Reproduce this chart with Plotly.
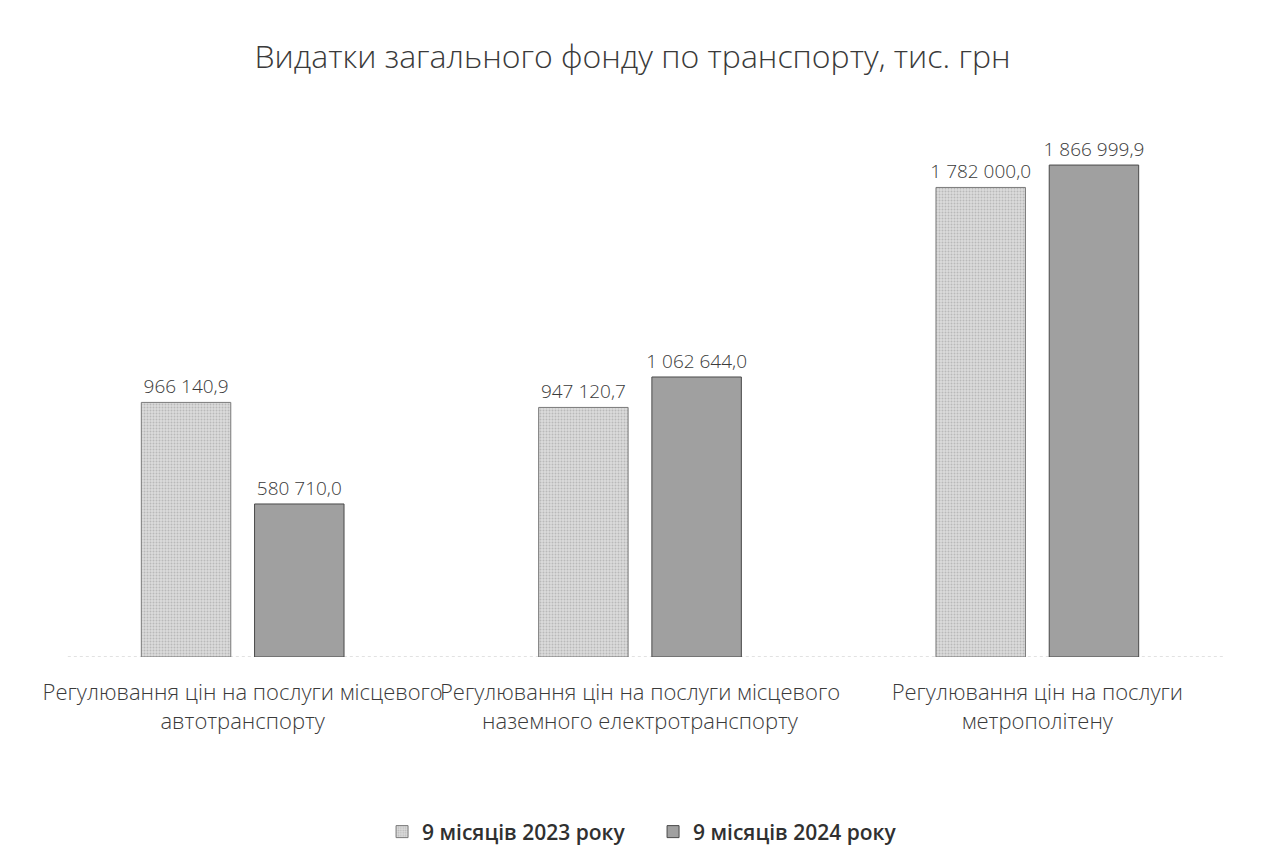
import plotly.graph_objects as go

categories = [
    "Регулювання цін на послуги місцевого<br>автотранспорту",
    "Регулювання цін на послуги місцевого<br>наземного електротранспорту",
    "Регулювання цін на послуги<br>метрополітену",
]
series_names = ["9 місяців 2023 року", "9 місяців 2024 року"]
values_2023 = [966140.9, 947120.7, 1782000.0]
values_2024 = [580710.0, 1062644.0, 1866999.9]
title_text = "Видатки загального фонду по транспорту, тис. грн"

FONT = "Open Sans"
TEXT_COLOR = "#3a3a3a"


def fmt(v):
    whole, frac = f"{v:,.1f}".split(".")
    return whole.replace(",", " ") + "," + frac


fig = go.Figure()
fig.add_trace(go.Bar(
    name=series_names[0], x=categories, y=values_2023,
    text=[fmt(v) for v in values_2023], textposition="outside",
    marker=dict(color="#cfcfcf", line=dict(color="#7a7a7a", width=1),
                pattern=dict(shape=".", fgcolor="#959595", bgcolor="#dcdcdc",
                             size=3, solidity=0.35)),
))
fig.add_trace(go.Bar(
    name=series_names[1], x=categories, y=values_2024,
    text=[fmt(v) for v in values_2024], textposition="outside",
    marker=dict(color="#939393", line=dict(color="#4a4a4a", width=1),
                pattern=dict(shape=".", fgcolor="#5a5a5a", bgcolor="#b4b4b4",
                             size=2, solidity=0.5)),
))

fig.update_traces(textfont=dict(family=FONT, size=19, color=TEXT_COLOR, weight=300),
                  constraintext="none", cliponaxis=False)

# faint dotted baseline under the bars
fig.add_shape(type="line", xref="paper", yref="y", x0=0.02, x1=0.99, y0=0, y1=0,
              line=dict(color="#c4c4c4", width=1, dash="dot"), layer="below")

fig.update_layout(
    width=1265, height=867,
    paper_bgcolor="white", plot_bgcolor="white",
    margin=dict(l=44, r=29, t=130, b=210, autoexpand=False),
    barmode="group", bargap=0.43, bargroupgap=0.21,
    title=dict(text=title_text, x=0.5, xanchor="center", y=1 - 57 / 867,
               yanchor="middle",
               font=dict(family=FONT, size=32, color=TEXT_COLOR, weight=300)),
    xaxis=dict(showline=False, ticks="", showgrid=False, ticklabelstandoff=20,
               tickangle=0, automargin=False,
               tickfont=dict(family=FONT, size=22, color=TEXT_COLOR, weight=300)),
    yaxis=dict(range=[0, 2000000], visible=False, showgrid=False,
               automargin=False),
    legend=dict(orientation="h", x=0.2836, xanchor="left", y=-0.332,
                yanchor="middle",
                font=dict(family=FONT, size=21, color="#303030", weight=600),
                itemwidth=30, entrywidth=226, traceorder="normal"),
    showlegend=True,
)

fig.write_html("out.html")
